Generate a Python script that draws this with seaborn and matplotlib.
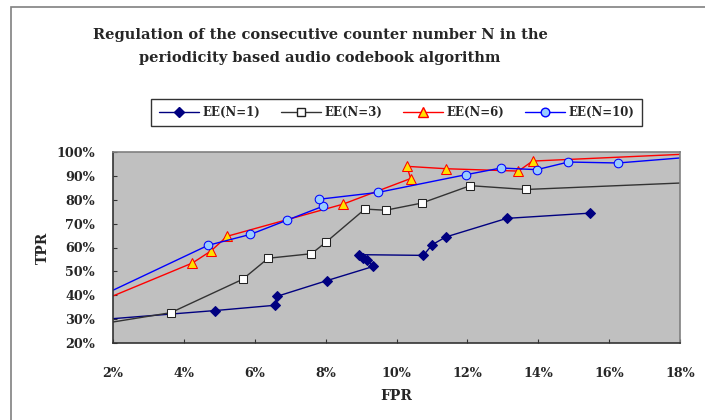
import matplotlib
matplotlib.use("Agg")
import matplotlib.pyplot as plt
from matplotlib.patches import Rectangle
from matplotlib.lines import Line2D
from matplotlib.ticker import FuncFormatter
import pandas as pd
import seaborn as sns

# valeurs (FPR %, TPR %)
fpr_n1 = [2.0, 4.89, 6.57, 6.64, 8.03, 9.35, 9.16, 9.06, 8.95, 10.76, 11.01, 11.39, 13.11, 15.47]
tpr_n1 = [30.2, 33.6, 35.8, 39.6, 46.1, 52.1, 54.6, 55.8, 57.0, 56.7, 61.2, 64.4, 72.2, 74.4]

fpr_n3 = [2.0, 3.63, 5.66, 6.38, 7.60, 8.0, 9.11, 9.69, 10.71, 12.08, 13.65, 18.0]
tpr_n3 = [28.8, 32.7, 46.7, 55.5, 57.4, 62.1, 76.1, 75.6, 78.6, 85.9, 84.3, 87.0]

fpr_n6 = [2.0, 4.24, 4.76, 5.22, 8.48, 10.40, 10.29, 11.39, 13.44, 13.84, 18.0]
tpr_n6 = [39.7, 53.5, 58.5, 64.7, 78.1, 88.9, 94.0, 93.0, 92.0, 96.2, 99.0]

fpr_n10 = [2.0, 4.68, 5.88, 6.92, 7.93, 7.81, 9.49, 11.96, 12.95, 13.96, 14.85, 16.25, 18.0]
tpr_n10 = [42.1, 60.9, 65.5, 71.5, 77.3, 80.2, 83.1, 90.5, 93.3, 92.6, 95.8, 95.4, 97.5]

series_labels = ["EE(N=1)", "EE(N=3)", "EE(N=6)", "EE(N=10)"]

sns.set_style("white")
plt.rcParams['font.family'] = ['DejaVu Serif']
plt.rcParams['font.weight'] = 'bold'

fig = plt.figure(figsize=(7.05, 4.2), dpi=100)
ax = fig.add_axes([113 / 705, 1 - 343 / 420, (680 - 113) / 705, (343 - 152) / 420])

# cadre de la zone du graphique
fig.patches.append(Rectangle((11 / 705, -0.05), 1.0, 1 - 7 / 420 + 0.05,
                             transform=fig.transFigure, fill=False,
                             edgecolor='#808080', linewidth=1.2))

styles = [
    dict(color='#000080', marker='D', markersize=4.8, markerfacecolor='#000080',
         markeredgecolor='#000080', linewidth=1.0),
    dict(color='#333333', marker='s', markersize=6, markerfacecolor='white',
         markeredgecolor='#222222', linewidth=1.0),
    dict(color='#FF0000', marker='^', markersize=6.5, markerfacecolor='#FFE000',
         markeredgecolor='#FF0000', linewidth=1.0),
    dict(color='#0000FF', marker='o', markersize=6.2, markerfacecolor='#99CCFF',
         markeredgecolor='#0000FF', linewidth=1.0),
]
data = [(fpr_n1, tpr_n1), (fpr_n3, tpr_n3), (fpr_n6, tpr_n6), (fpr_n10, tpr_n10)]

handles = []
for (xs, ys), st, lab in zip(data, styles, series_labels):
    df = pd.DataFrame({'FPR': xs, 'TPR': ys})
    sns.lineplot(data=df, x='FPR', y='TPR', sort=False, estimator=None, ax=ax,
                 legend=False, **st)
    # pas de marqueur sur le point de bord (debut / fin de courbe)
    line = ax.lines[-1]
    every = [i for i in range(len(xs)) if xs[i] not in (2.0, 18.0)]
    line.set_markevery(every)
    handles.append(Line2D([], [], **st))

ax.set_facecolor('#C0C0C0')
ax.set_xlim(2, 18)
ax.set_ylim(20, 100)
ax.set_xticks(range(2, 19, 2))
ax.set_yticks(range(20, 101, 10))
ax.xaxis.set_major_formatter(FuncFormatter(lambda v, p: f"{v:.0f}%"))
ax.yaxis.set_major_formatter(FuncFormatter(lambda v, p: f"{v:.0f}%"))
ax.tick_params(axis='both', direction='in', length=3, width=0.8, color='#333333',
               labelsize=9.2, bottom=True, left=True)
ax.tick_params(axis='x', pad=17)
ax.tick_params(axis='y', pad=13)
for sp in ax.spines.values():
    sp.set_color('#808080')
    sp.set_linewidth(1.2)
ax.spines['bottom'].set_color('#333333')
ax.spines['left'].set_color('#333333')

ax.set_xlabel('FPR', fontsize=10, fontweight='bold', labelpad=7)
ax.set_ylabel('TPR', fontsize=10, fontweight='bold')
ax.yaxis.set_label_coords(-0.112, 0.5)

fig.text(320 / 705, 1 - 35 / 420, "Regulation of the consecutive counter number N in the",
         ha='center', va='center', fontsize=10.5, fontweight='bold')
fig.text(320 / 705, 1 - 58 / 420, "periodicity based audio codebook algorithm",
         ha='center', va='center', fontsize=10.5, fontweight='bold')

leg = ax.legend(handles=handles, labels=series_labels, ncol=4, loc='center',
                bbox_to_anchor=((396.5 - 113) / 567, 1 + (152 - 112.5) / 191),
                frameon=True, fancybox=False, edgecolor='black', fontsize=8.5,
                handlelength=3.4, handletextpad=0.3, columnspacing=1.75,
                borderpad=0.6, borderaxespad=0)
leg.get_frame().set_linewidth(1.0)

fig.savefig('out.png', dpi=100)
